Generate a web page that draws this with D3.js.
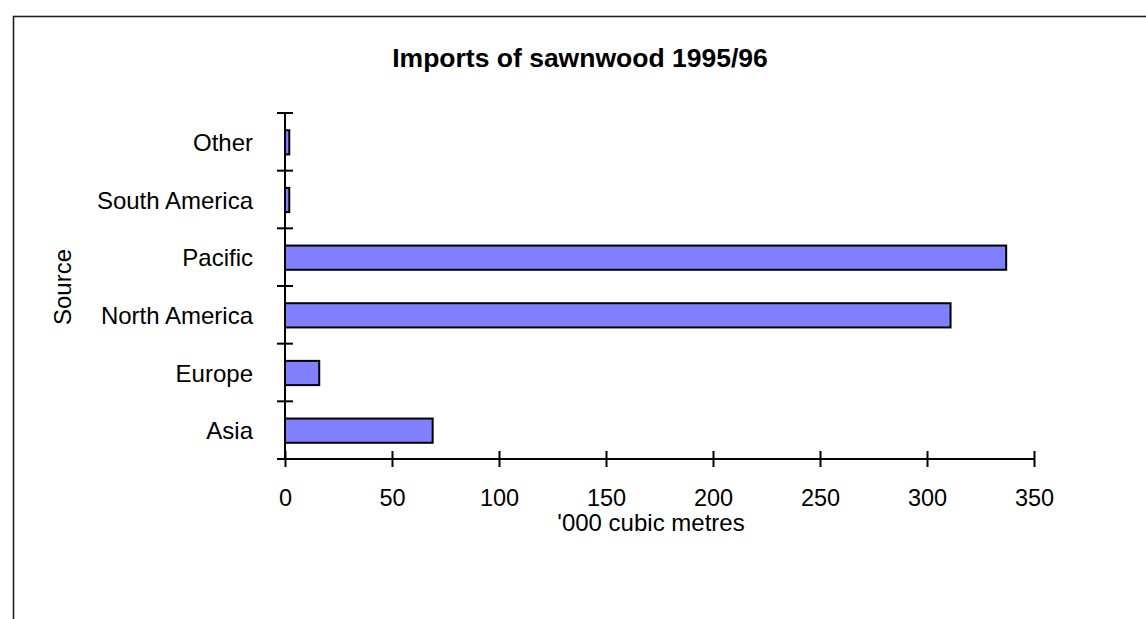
<!DOCTYPE html>
<html>
<head>
<meta charset="utf-8">
<script src="https://cdn.jsdelivr.net/npm/d3@7"></script>
<style>
  html, body { margin: 0; padding: 0; background: #fff; }
  svg { display: block; font-family: "Liberation Sans", Arial, sans-serif; }
</style>
</head>
<body>
<svg id="chart" width="1146" height="619"></svg>
<script>
// Sawnwood imports by source, '000 cubic metres (bottom to top)
const categories = ["Asia", "Europe", "North America", "Pacific", "South America", "Other"];
const values = [69, 16, 311, 337, 2, 2];
const xTicks = [0, 50, 100, 150, 200, 250, 300, 350];
const titleText = "Imports of sawnwood 1995/96";
const xTitle = "'000 cubic metres";
const yTitle = "Source";

const FONT = "Liberation Sans, Arial, sans-serif";
const svg = d3.select("#chart");

// outer frame (runs off the right and bottom edges)
svg.append("rect")
  .attr("x", 13.5).attr("y", 16.5)
  .attr("width", 1200).attr("height", 700)
  .attr("fill", "none").attr("stroke", "#222").attr("stroke-width", 1.6);

const plot = { left: 285, right: 1034, top: 113, bottom: 459 };

const x = d3.scaleLinear().domain([0, 350]).range([plot.left, plot.right]);
// categories listed bottom-up, so the range runs from bottom to top
const y = d3.scaleBand().domain(categories).range([plot.bottom, plot.top]).padding(0);
const step = y.step();
const barH = step * 0.42;

// bars
svg.append("g").selectAll("rect")
  .data(categories)
  .join("rect")
  .attr("x", x(0))
  .attr("y", (d) => y(d) + (step - barH) / 2 + 0.5)
  .attr("width", (d, i) => x(values[i]) - x(0))
  .attr("height", barH)
  .attr("fill", "#8080ff")
  .attr("stroke", "#000")
  .attr("stroke-width", 2);

// x axis
const xAxis = svg.append("g")
  .attr("transform", `translate(0,${plot.bottom})`)
  .call(d3.axisBottom(x).tickValues(xTicks).tickSizeOuter(0).tickSizeInner(8));
xAxis.select(".domain").attr("stroke", "#000").attr("stroke-width", 2)
  .attr("d", `M${plot.left - 8},0H${plot.right}`);
xAxis.selectAll(".tick line").attr("y1", -8).attr("y2", 8).attr("stroke", "#000").attr("stroke-width", 2);
xAxis.selectAll(".tick text")
  .attr("y", 47).attr("dy", 0)
  .attr("font-size", 23.5).attr("fill", "#000")
  .attr("font-family", FONT);

// y axis line and labels
const yAxis = svg.append("g")
  .attr("transform", `translate(${plot.left},0)`)
  .call(d3.axisLeft(y).tickSize(0).tickPadding(32));
yAxis.select(".domain").attr("stroke", "#000").attr("stroke-width", 2)
  .attr("d", `M0,${plot.top}V${plot.bottom}`);
yAxis.selectAll(".tick text")
  .attr("dy", "0.38em")
  .attr("font-size", 24).attr("fill", "#000")
  .attr("font-family", FONT);

// category boundary ticks, crossing the axis
const bounds = categories.map((c) => y(c)).concat([y(categories[0]) + step]);
svg.append("g").selectAll("line")
  .data(bounds)
  .join("line")
  .attr("x1", plot.left - 8).attr("x2", plot.left + 8)
  .attr("y1", (d) => d).attr("y2", (d) => d)
  .attr("stroke", "#000").attr("stroke-width", 2);

// titles
svg.append("text")
  .attr("x", 580).attr("y", 67)
  .attr("text-anchor", "middle")
  .attr("font-size", 26.5).attr("font-weight", "bold")
  .text(titleText);

svg.append("text")
  .attr("x", 651).attr("y", 531)
  .attr("text-anchor", "middle")
  .attr("font-size", 24)
  .text(xTitle);

svg.append("text")
  .attr("transform", `translate(71,287) rotate(-90)`)
  .attr("text-anchor", "middle")
  .attr("font-size", 24)
  .text(yTitle);
</script>
</body>
</html>
